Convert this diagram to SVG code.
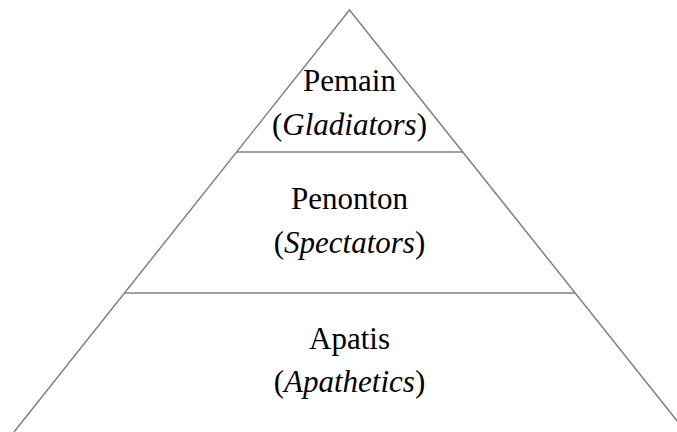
<svg xmlns="http://www.w3.org/2000/svg" width="677" height="432" viewBox="0 0 677 432">
<style>
.edge{stroke:#808080;stroke-width:1.5;fill:none}
.t{font-family:"Liberation Serif","Times New Roman",serif;font-size:31px;fill:#000;text-anchor:middle}
.i{font-style:italic}
</style>
<rect width="677" height="432" fill="#fff"/>
<g id="connectors">
<polyline class="edge" points="14,432 349.5,10 686,432"/>
<line class="edge" x1="237" y1="152" x2="462" y2="152"/>
<line class="edge" x1="125" y1="293" x2="575" y2="293"/>
</g>
<g id="pemain">
<text class="t" x="349.5" y="91">Pemain</text>
<text class="t" x="349.5" y="135">(<tspan class="i">Gladiators</tspan>)</text>
</g>
<g id="penonton">
<text class="t" x="349.5" y="209">Penonton</text>
<text class="t" x="349.5" y="253">(<tspan class="i">Spectators</tspan>)</text>
</g>
<g id="apatis">
<text class="t" x="349.5" y="349">Apatis</text>
<text class="t" x="349.5" y="392">(<tspan class="i">Apathetics</tspan>)</text>
</g>
</svg>
